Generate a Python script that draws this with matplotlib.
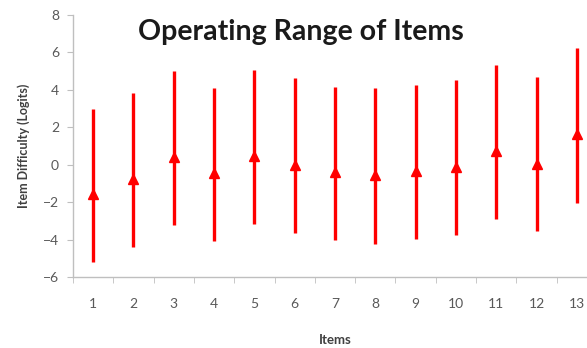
import matplotlib.pyplot as plt
import numpy as np
from matplotlib.ticker import FixedLocator

plt.rcParams['font.family'] = ['Lato', 'DejaVu Sans']

items = np.arange(1, 14)
difficulty = [-1.57, -0.76, 0.43, -0.44, 0.45, 0.0, -0.37, -0.53, -0.32, -0.11, 0.75, 0.04, 1.64]
range_top = [3.0, 3.82, 5.03, 4.1, 5.06, 4.62, 4.17, 4.09, 4.26, 4.53, 5.35, 4.67, 6.24]
range_bottom = [-5.17, -4.36, -3.21, -4.06, -3.13, -3.65, -4.01, -4.2, -3.97, -3.76, -2.9, -3.53, -2.01]

red = '#ff0000'
grey = '#595959'

fig = plt.figure(figsize=(5.87, 3.48), dpi=100)
ax = fig.add_axes([73/587, 70.7/348, (597-73)/587, (333-70.7)/348])

ax.vlines(items, range_bottom, range_top, color=red, linewidth=2.4)
ax.plot(items, difficulty, linestyle='none', marker='^', markersize=7, color=red)

ax.set_xlim(0.5, 13.5)
ax.set_ylim(-6, 8)
ax.set_yticks(np.arange(-6, 9, 2))
ax.set_xticks(items)
ax.set_xticklabels([str(i) for i in items])
ax.xaxis.set_minor_locator(FixedLocator(np.arange(0.5, 14, 1)))

for s in ['top', 'right']:
    ax.spines[s].set_visible(False)
for s in ['left', 'bottom']:
    ax.spines[s].set_color('#bfbfbf')
    ax.spines[s].set_linewidth(1.0)

ax.tick_params(axis='x', which='major', length=0, pad=15, labelsize=10, labelcolor=grey)
ax.tick_params(axis='x', which='minor', length=4, color='#bfbfbf', direction='out')
ax.tick_params(axis='y', length=4, color='#bfbfbf', pad=6, labelsize=10, labelcolor=grey)

ax.set_ylabel('Item Difficulty (Logits)', fontsize=9, fontweight='bold', color='#404040', labelpad=9)
fig.text(335/587, 1 - 340/348, 'Items', fontsize=9.5, fontweight='bold', color='#404040', ha='center', va='center')
fig.text(301/587, 1 - 32/348, 'Operating Range of Items', fontsize=20.5, fontweight='bold', color='#1a1a1a', ha='center', va='center')

fig.savefig('out.png', dpi=100)
